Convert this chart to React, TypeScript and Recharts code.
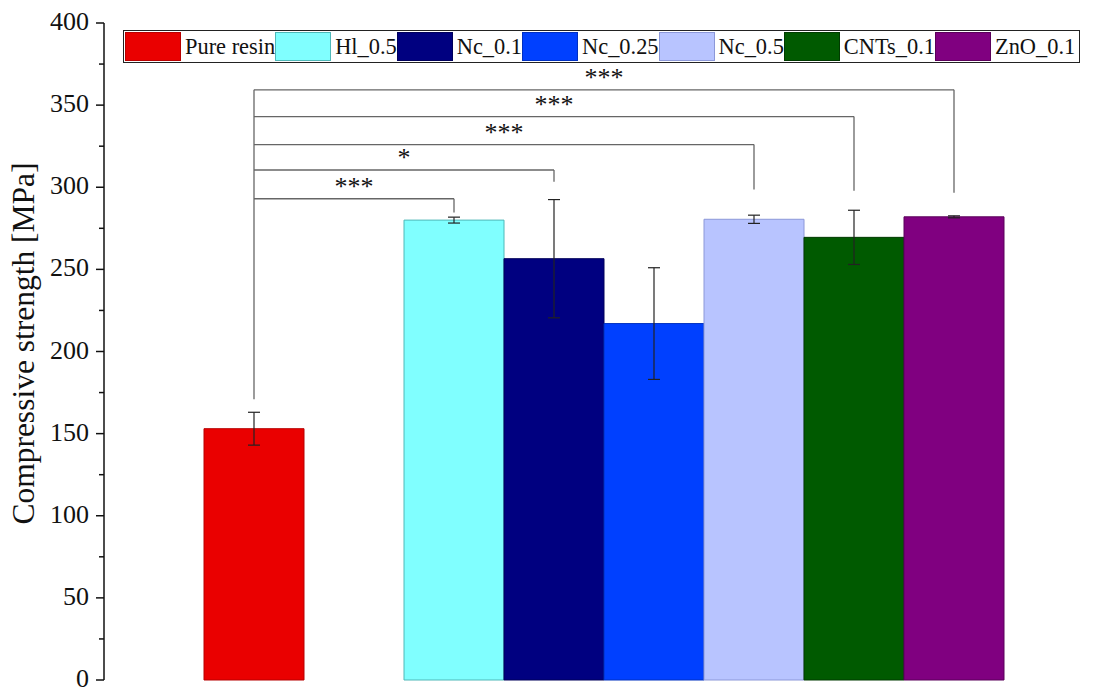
import { BarChart, Bar, Cell, XAxis, YAxis, ErrorBar, ReferenceLine } from "recharts";

// slots along the x axis; the blank ones keep the gaps of the original figure
const categories = ["", "Pure resin", " ", "Hl_0.5", "Nc_0.1", "Nc_0.25", "Nc_0.5", "CNTs_0.1", "ZnO_0.1", "  "];
const strength = [null, 153, null, 280, 256.5, 217, 280.5, 269.5, 282, null];
const strengthErr = [null, 10, null, 1.8, 36, 34, 2.5, 16.5, 0.6, null];
const fills = ["#fff", "#EA0000", "#fff", "#80FFFF", "#000080", "#0040FF", "#B8C4FF", "#005A00", "#800080", "#fff"];
const edges = ["#fff", "#B80000", "#fff", "#4FB8B8", "#00005A", "#0030C0", "#8C98D8", "#003A00", "#5A005A", "#fff"];

const legendNames = ["Pure resin", "Hl_0.5", "Nc_0.1", "Nc_0.25", "Nc_0.5", "CNTs_0.1", "ZnO_0.1"];
const legendFills = ["#EA0000", "#80FFFF", "#000080", "#0040FF", "#B8C4FF", "#005A00", "#800080"];
const legendEdges = ["#B80000", "#4FB8B8", "#00005A", "#0030C0", "#8C98D8", "#003A00", "#5A005A"];

const yTicks = [0, 25, 50, 75, 100, 125, 150, 175, 200, 225, 250, 275, 300, 325, 350, 375, 400];

// significance brackets, all starting from Pure resin
const sigFrom = "Pure resin";
const sigTargets = ["Hl_0.5", "Nc_0.1", "Nc_0.5", "CNTs_0.1", "ZnO_0.1"];
const sigLevels = [293, 310.5, 326, 343, 359.3];
const sigEnds = [284.7, 303.3, 298.6, 297.8, 296.6];
const sigLabels = ["***", "*", "***", "***", "***"];
const sigStart = 171;

const data = categories.map((name, i) => ({ name, value: strength[i], err: strengthErr[i] }));

const FONT = "'Liberation Serif', 'Times New Roman', serif";
const LINE = "#666";

const YTick = (props: any) => {
  const { x, y, payload } = props;
  const major = payload.value % 50 === 0;
  return (
    <g>
      <line x1={x - (major ? 8 : 5)} x2={x} y1={y} y2={y} stroke="#111" strokeWidth={1.5} />
      {major && (
        <text x={x - 15} y={y} dy={7} textAnchor="end" fontSize={26} fontFamily={FONT} fill="#111">
          {payload.value}
        </text>
      )}
    </g>
  );
};

function LegendBox() {
  return (
    <div
      style={{
        position: "absolute",
        left: 123,
        top: 30,
        height: 31,
        border: "1.5px solid #222",
        background: "#fff",
        display: "flex",
        alignItems: "center",
        paddingLeft: 1,
        paddingRight: 4,
        fontFamily: FONT,
        fontSize: 22.4,
        color: "#111",
      }}
    >
      {legendNames.map((n, i) => (
        <div key={n} style={{ display: "flex", alignItems: "center" }}>
          <div
            style={{
              width: 54,
              height: 27,
              background: legendFills[i],
              border: `1px solid ${legendEdges[i]}`,
              marginRight: 4,
            }}
          />
          <span style={{ lineHeight: "27px" }}>{n}</span>
        </div>
      ))}
    </div>
  );
}

export default function App() {
  return (
    <div style={{ position: "absolute", left: 0, top: 0, width: 1117, height: 695, background: "#fff" }}>
      <BarChart
        width={1117}
        height={695}
        data={data}
        margin={{ top: 23, right: 13, bottom: 15, left: 0 }}
        barCategoryGap={0}
        barGap={0}
      >
        <XAxis dataKey="name" tick={false} tickLine={false} height={0} axisLine={{ stroke: "#333", strokeWidth: 2.5 }} />
        <XAxis
          xAxisId="top"
          orientation="top"
          dataKey="name"
          tick={false}
          tickLine={false}
          height={0}
          axisLine={{ stroke: "#333", strokeWidth: 2 }}
        />
        <YAxis
          domain={[0, 400]}
          ticks={yTicks}
          interval={0}
          width={104}
          tickSize={0}
          tickMargin={0}
          tickLine={false}
          tick={<YTick />}
          axisLine={{ stroke: "#111", strokeWidth: 1.5 }}
          label={{
            value: "Compressive strength [MPa]",
            angle: -90,
            position: "center",
            dx: -29,
            dy: -8,
            style: { fontFamily: FONT, fontSize: 31.5, fill: "#111" },
          }}
        />
        <YAxis
          yAxisId="right"
          orientation="right"
          domain={[0, 400]}
          width={0}
          tick={false}
          tickLine={false}
          axisLine={{ stroke: "#333", strokeWidth: 2.5 }}
        />
        <Bar dataKey="value" isAnimationActive={false} strokeWidth={1}>
          {data.map((d, i) => (
            <Cell key={i} fill={fills[i]} stroke={edges[i]} />
          ))}
          <ErrorBar dataKey="err" width={6} stroke="#222" strokeWidth={1.2} />
        </Bar>
        <ReferenceLine
          segment={[
            { x: sigFrom, y: sigLevels[sigLevels.length - 1] },
            { x: sigFrom, y: sigStart },
          ]}
          stroke={LINE}
          strokeWidth={1.3}
          ifOverflow="visible"
        />
        {sigTargets.map((t, i) => (
          <ReferenceLine
            key={"h" + t}
            segment={[
              { x: sigFrom, y: sigLevels[i] },
              { x: t, y: sigLevels[i] },
            ]}
            stroke={LINE}
            strokeWidth={1.3}
            ifOverflow="visible"
            label={{
              value: sigLabels[i],
              position: "top",
              offset: 4,
              style: { fontFamily: FONT, fontSize: 26, fill: "#111" },
            }}
          />
        ))}
        {sigTargets.map((t, i) => (
          <ReferenceLine
            key={"v" + t}
            segment={[
              { x: t, y: sigLevels[i] },
              { x: t, y: sigEnds[i] },
            ]}
            stroke={LINE}
            strokeWidth={1.3}
            ifOverflow="visible"
          />
        ))}
      </BarChart>
      <LegendBox />
    </div>
  );
}
